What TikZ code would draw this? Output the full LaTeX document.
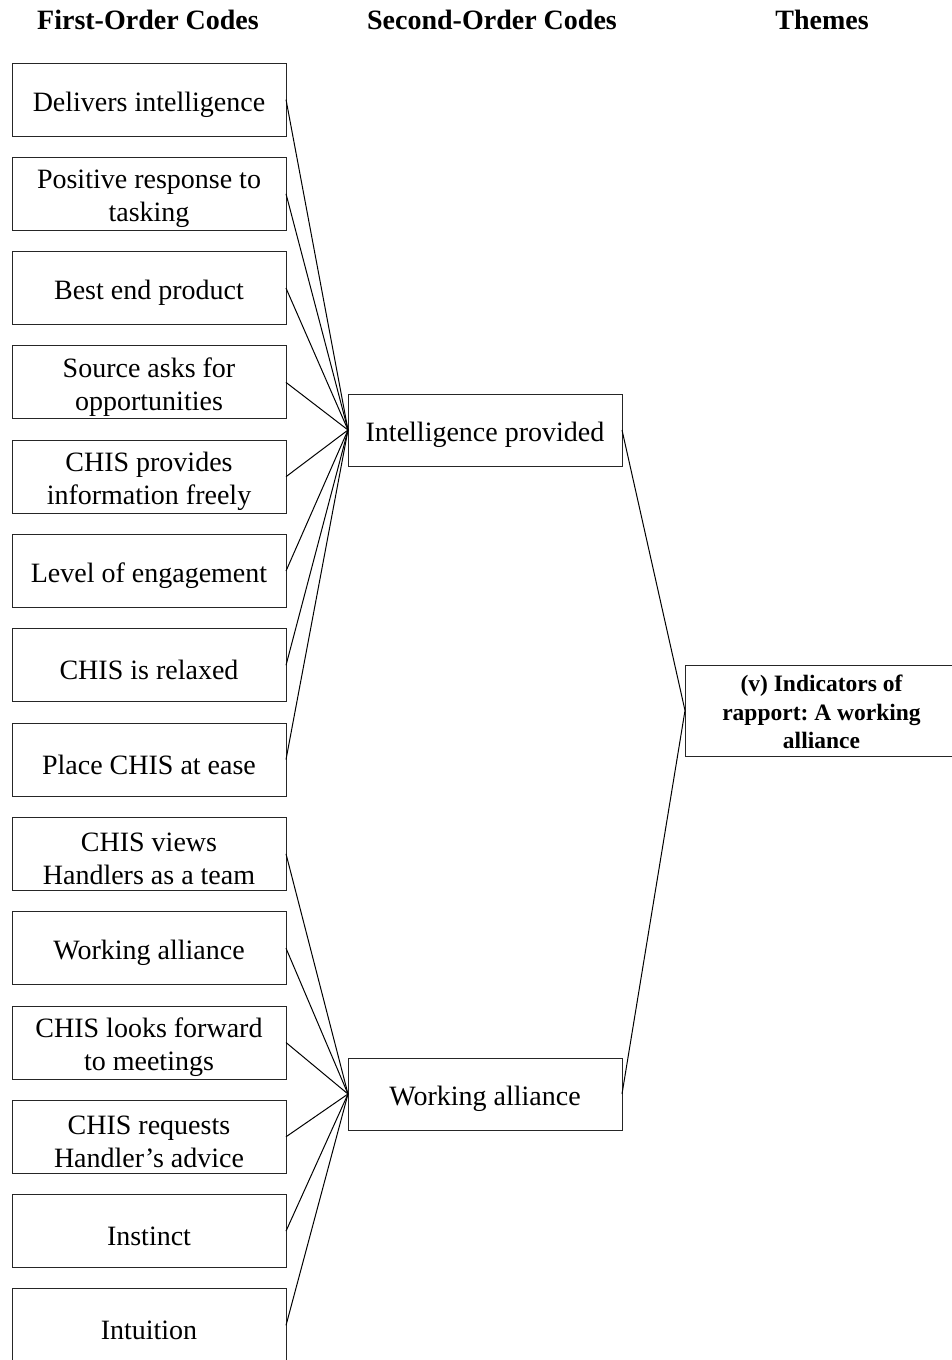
\documentclass[tikz,border=0pt]{standalone}
\usepackage{fontspec}
\setmainfont{Liberation Serif}
\frenchspacing
\begin{document}
\begin{tikzpicture}[x=1pt,y=-1pt,
  boxtext/.style={inner sep=0pt,align=center,font=\fontsize{28}{33}\selectfont},
  codebox/.style={draw=black!85,line width=0.9pt,minimum width=274pt,minimum height=73pt,
    inner sep=0pt,outer sep=0pt,
    label={[boxtext,yshift=-5pt]center:{#1}}},
  midbox/.style={codebox=#1,minimum height=72pt},
  themebox/.style={draw=black!85,line width=0.9pt,minimum width=270pt,minimum height=91pt,
    inner sep=0pt,outer sep=0pt,
    label={[boxtext,yshift=-1.5pt,xshift=1.5pt,font=\fontsize{23.5}{28.5}\selectfont\bfseries]center:{#1}}},
  heading/.style={anchor=base,inner sep=0pt,font=\fontsize{28}{33}\selectfont\bfseries},
  link/.style={line width=1pt}]
\useasboundingbox (0,0) rectangle (952,1360);

% column headings
\node[heading] (h1) at (148,29) {First-Order Codes};
\node[heading] (h2) at (492,29) {Second-Order Codes};
\node[heading] (h3) at (822,29) {Themes};

% first-order codes
\foreach \t [count=\i] in {
  {Delivers intelligence},
  {Positive response to\\tasking},
  {Best end product},
  {Source asks for\\opportunities},
  {CHIS provides\\information freely},
  {Level of engagement},
  {CHIS is relaxed},
  {Place CHIS at ease},
  {CHIS views\\Handlers as a team},
  {Working alliance},
  {CHIS looks forward\\to meetings},
  {CHIS requests\\Handler’s advice},
  {Instinct},
  {Intuition}}
  \node[codebox/.expanded={\unexpanded\expandafter{\t}}] (f\i) at (149,{99.5+94.3*(\i-1)}) {};

% second-order codes
\node[midbox={Intelligence provided}] (s1) at (485,430) {};
\node[midbox={Working alliance}] (s2) at (485,1094) {};

% theme
\node[themebox={(v) Indicators of\\rapport: A working\\alliance}] (t1) at (820,710.5) {};

% connectors
\foreach \i in {1,...,8} \draw[link] (f\i.east) -- (s1.west);
\foreach \i in {9,...,14} \draw[link] (f\i.east) -- (s2.west);
\draw[link] (s1.east) -- (t1.west);
\draw[link] (s2.east) -- (t1.west);
\end{tikzpicture}
\end{document}
